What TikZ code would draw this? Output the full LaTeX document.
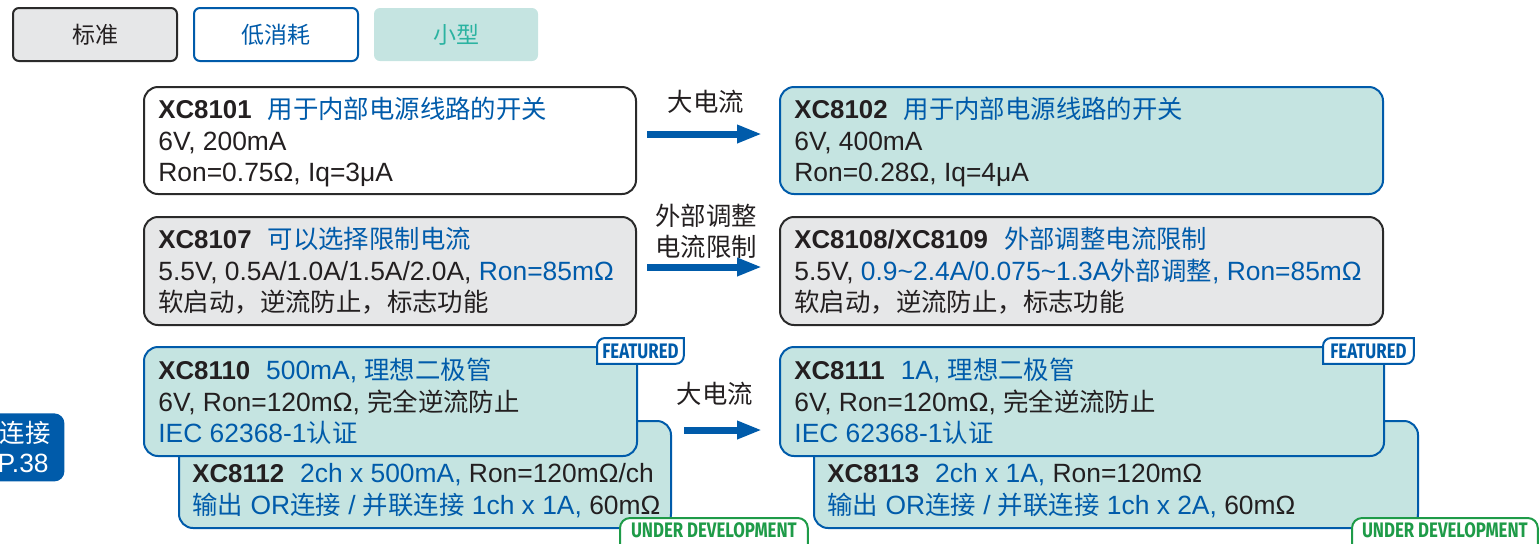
\documentclass[tikz,border=0pt]{standalone}
\usepackage{fontspec}
\setmainfont{Liberation Sans}
\newfontfamily\cjk{Noto Sans CJK SC}
\newfontfamily\tagfont{Fira Sans}[FakeStretch=0.8]
\usetikzlibrary{arrows.meta}
\newcommand\zh[1]{{\fontsize{12.7pt}{15pt}\cjk #1}}
\newcommand\xb[1]{{\fontsize{12.9pt}{15pt}\selectfont\bfseries #1}}
\newcommand\tl{{\char"7E}}
\definecolor{xblue}{HTML}{005BAA}
\definecolor{xtext}{HTML}{231F20}
\definecolor{xteal}{HTML}{C5E4E1}
\definecolor{xgray}{HTML}{E6E7E8}
\definecolor{xdark}{HTML}{2A2A2A}
\definecolor{xgreen}{HTML}{1E9B48}
\definecolor{xtealtext}{HTML}{2BB3A1}
\newcommand\bl[1]{\textcolor{xblue}{#1}}
\begin{document}
\begin{tikzpicture}[x=0.5pt,y=-0.5pt,
  boxbase/.style={rounded corners=7pt, line width=1pt, anchor=north west, inner sep=0pt},
  whitebox/.style={boxbase, draw=xdark, fill=white},
  graybox/.style={boxbase, draw=xdark, fill=xgray},
  tealbox/.style={boxbase, draw=xblue, fill=xteal},
  tabbase/.style={rounded corners=3pt, line width=1pt, anchor=north west, inner sep=0pt,
     minimum width=82pt, minimum height=26.5pt, font=\fontsize{11.5pt}{13pt}\cjk},
  txt/.style={anchor=base west, inner sep=0pt, font=\fontsize{13.2pt}{15pt}\selectfont, text=xtext},
  lbl/.style={inner sep=0pt, font=\fontsize{12.7pt}{15pt}\cjk, text=xtext},
  bigarrow/.style={draw=xblue, line width=3.5pt, -{Triangle[length=12.5pt,width=8.5pt]}},
  tagfill/.style={fill=white, line width=1pt},
  tagtxt/.style={inner sep=0pt, font=\fontsize{10.5pt}{12pt}\tagfont\bfseries}
]
\useasboundingbox (0,0) rectangle (1540,543);

% tabs
\node[tabbase, draw=xdark, fill=xgray, text=xtext] (tab1) at (12,7) {标准};
\node[tabbase, draw=xblue, fill=white, text=xblue] (tab2) at (193,7) {低消耗};
\node[tabbase, draw=none, fill=xteal, text=xtealtext] (tab3) at (373,7) {小型};

% left badge
\node[fill=xblue, rounded corners=5pt, anchor=north west, inner sep=0pt,
  minimum width=47pt, minimum height=34pt] (badge) at (-30,413) {};
\node[anchor=east, inner sep=0pt, text=white, font=\fontsize{12.7pt}{15pt}\cjk] (badge1) at (51,433) {连接};
\node[anchor=base east, inner sep=0pt, text=white, font=\fontsize{13.2pt}{15pt}\selectfont] (badge2) at (49,472) {P.38};

% row 1
\node[whitebox, minimum width=246pt, minimum height=53.5pt] (b1) at (143,86) {};
\node[txt] (b1l1) at (158,118) {\xb{XC8101}\hspace{8pt}\bl{\zh{用于内部电源线路的开关}}};
\node[txt] (b1l2) at (158,150) {6V, 200mA};
\node[txt] (b1l3) at (158,181) {Ron=0.75Ω, Iq=3μA};

\node[tealbox, minimum width=301.5pt, minimum height=53.5pt] (b2) at (779,86) {};
\node[txt] (b2l1) at (794,118) {\xb{XC8102}\hspace{8pt}\bl{\zh{用于内部电源线路的开关}}};
\node[txt] (b2l2) at (794,150) {6V, 400mA};
\node[txt] (b2l3) at (794,181) {Ron=0.28Ω, Iq=4μA};

\coordinate (a1s) at (647,134);
\coordinate (a1e) at (762,134);
\draw[bigarrow] (a1s) -- (a1e);
\node[lbl] (a1l) at (706,102) {大电流};

% row 2
\node[graybox, minimum width=246pt, minimum height=54pt] (b3) at (143,216) {};
\node[txt] (b3l1) at (158,248) {\xb{XC8107}\hspace{8pt}\bl{\zh{可以选择限制电流}}};
\node[txt] (b3l2) at (158,280) {5.5V, 0.5A/1.0A/1.5A/2.0A, \bl{Ron=85mΩ}};
\node[txt] (b3l3) at (158,311) {\zh{软启动，逆流防止，标志功能}};

\node[graybox, minimum width=301.5pt, minimum height=54pt] (b4) at (779,216) {};
\node[txt] (b4l1) at (794,248) {\xb{XC8108/XC8109}\hspace{8pt}\bl{\zh{外部调整电流限制}}};
\node[txt] (b4l2) at (794,280) {5.5V, \bl{0.9\tl2.4A/0.075\tl1.3A\zh{外部调整}, Ron=85mΩ}};
\node[txt] (b4l3) at (794,311) {\zh{软启动，逆流防止，标志功能}};

\coordinate (a2s) at (647,267);
\coordinate (a2e) at (762,267);
\draw[bigarrow] (a2s) -- (a2e);
\node[lbl] (a2l1) at (706,216) {外部调整};
\node[lbl] (a2l2) at (706,247) {电流限制};

% row 3 left
\node[tealbox, minimum width=246pt, minimum height=53.5pt] (b5) at (178,420) {};
\node[txt] (b5l1) at (192,482) {\xb{XC8112}\hspace{8pt}\bl{2ch x 500mA,} Ron=120mΩ/ch};
\node[txt] (b5l2) at (192,514) {\bl{\zh{输出} OR\zh{连接} / \zh{并联连接} 1ch x 1A,} 60mΩ};

\node[tealbox, minimum width=246.5pt, minimum height=54.5pt] (b6) at (143,346) {};
\node[txt] (b6l1) at (158,379) {\xb{XC8110}\hspace{8pt}\bl{500mA, \zh{理想二极管}}};
\node[txt] (b6l2) at (158,411) {6V, Ron=120mΩ, \zh{完全逆流防止}};
\node[txt] (b6l3) at (158,442) {\bl{IEC 62368-1\zh{认证}}};

% row 3 right
\node[tealbox, minimum width=302pt, minimum height=53.5pt] (b7) at (813,420) {};
\node[txt] (b7l1) at (827,482) {\xb{XC8113}\hspace{8pt}\bl{2ch x 1A,} Ron=120mΩ};
\node[txt] (b7l2) at (827,514) {\bl{\zh{输出} OR\zh{连接} / \zh{并联连接} 1ch x 2A,} 60mΩ};

\node[tealbox, minimum width=302pt, minimum height=54.5pt] (b8) at (779,346) {};
\node[txt] (b8l1) at (794,379) {\xb{XC8111}\hspace{8pt}\bl{1A, \zh{理想二极管}}};
\node[txt] (b8l2) at (794,411) {6V, Ron=120mΩ, \zh{完全逆流防止}};
\node[txt] (b8l3) at (794,442) {\bl{IEC 62368-1\zh{认证}}};

\coordinate (a3s) at (684,430);
\coordinate (a3e) at (762,430);
\draw[bigarrow] (a3s) -- (a3e);
\node[lbl] (a3l) at (715,394) {大电流};

% tags
\node[inner sep=0pt, anchor=north west, minimum width=43pt, minimum height=12.5pt] (ft1) at (597,338) {};
\draw[tagfill, draw=xblue] (ft1.south west) -- ([yshift=-4pt]ft1.north west) arc[start angle=180,end angle=90,radius=4pt]
  -- (ft1.north east) -- ([yshift=4pt]ft1.south east) arc[start angle=0,end angle=-90,radius=4pt] -- cycle;
\node[tagtxt, text=xblue] (ft1t) at (ft1) {FEATURED};

\node[inner sep=0pt, anchor=north west, minimum width=45pt, minimum height=12.5pt] (ft2) at (1323,338) {};
\draw[tagfill, draw=xblue] (ft2.south west) -- ([yshift=-4pt]ft2.north west) arc[start angle=180,end angle=90,radius=4pt]
  -- (ft2.north east) -- ([yshift=4pt]ft2.south east) arc[start angle=0,end angle=-90,radius=4pt] -- cycle;
\node[tagtxt, text=xblue] (ft2t) at (ft2) {FEATURED};

\node[inner sep=0pt, anchor=north west, minimum width=93.5pt, minimum height=16pt] (ud1) at (620,518) {};
\draw[tagfill, draw=xgreen] (ud1.south west) -- ([yshift=-5pt]ud1.north west) arc[start angle=180,end angle=90,radius=5pt]
  -- ([xshift=-5pt]ud1.north east) arc[start angle=90,end angle=0,radius=5pt] -- (ud1.south east) -- cycle;
\node[tagtxt, text=xgreen, anchor=north] (ud1t) at ([yshift=-2.3pt]ud1.north) {UNDER DEVELOPMENT};

\node[inner sep=0pt, anchor=north west, minimum width=92.5pt, minimum height=16pt] (ud2) at (1352,518) {};
\draw[tagfill, draw=xgreen] (ud2.south west) -- ([yshift=-5pt]ud2.north west) arc[start angle=180,end angle=90,radius=5pt]
  -- ([xshift=-5pt]ud2.north east) arc[start angle=90,end angle=0,radius=5pt] -- (ud2.south east) -- cycle;
\node[tagtxt, text=xgreen, anchor=north] (ud2t) at ([yshift=-2.3pt]ud2.north) {UNDER DEVELOPMENT};
\end{tikzpicture}
\end{document}
